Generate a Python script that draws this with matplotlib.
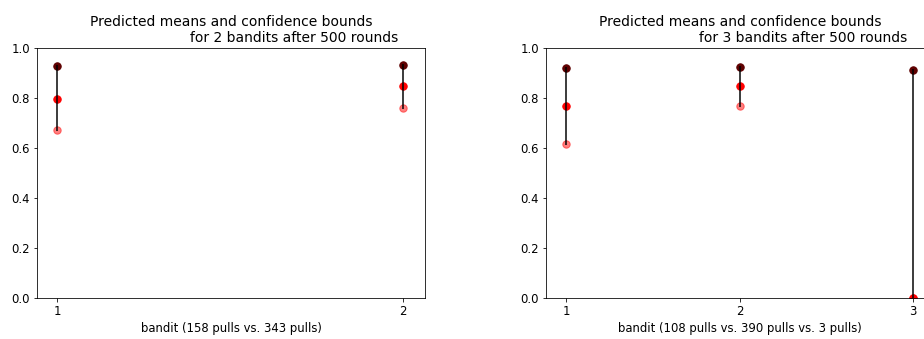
import matplotlib
matplotlib.use("Agg")
import matplotlib.pyplot as plt

# Podaci za levi grafik (2 bandita)
bandits_2 = [1, 2]
upper_2 = [0.928, 0.932]
mean_2 = [0.796, 0.848]
lower_2 = [0.672, 0.760]
pulls_2 = [158, 343]

# Podaci za desni grafik (3 bandita)
bandits_3 = [1, 2, 3]
upper_3 = [0.920, 0.924, 0.912]
mean_3 = [0.768, 0.848, 0.0]
lower_3 = [0.616, 0.768, 0.0]
pulls_3 = [108, 390, 3]

rounds = 500

plt.rcParams["font.size"] = 11.6
plt.rcParams["axes.titlesize"] = 13.9

fig = plt.figure(figsize=(924 / 72, 339 / 72), dpi=72)
ax1 = fig.add_axes([37 / 924, 41 / 339, 388 / 924, 250 / 339])
ax2 = fig.add_axes([546 / 924, 41 / 339, 388 / 924, 250 / 339])


def crtaj(ax, bandits, upper, mean, lower, pulls, xlim):
    ax.scatter(bandits, upper, s=55, color="#5e0000", zorder=2)
    ax.scatter(bandits, mean, s=55, color="red", zorder=2)
    ax.scatter(bandits, lower, s=55, color="red", alpha=0.5, zorder=2)
    for b, lo, up in zip(bandits, lower, upper):
        ax.plot([b, b], [lo, up], color="black", alpha=0.75, lw=2, zorder=3)
    ax.set_ylim(0, 1)
    ax.set_xlim(*xlim)
    ax.set_xticks(bandits)
    ax.set_xlabel("bandit (" + " vs. ".join("%d pulls" % p for p in pulls) + ")")
    ax.set_title("Predicted means and confidence bounds\n" + " " * 29
                 + "for %d bandits after %d rounds" % (len(bandits), rounds))


crtaj(ax1, bandits_2, upper_2, mean_2, lower_2, pulls_2, (0.942, 2.064))
crtaj(ax2, bandits_3, upper_3, mean_3, lower_3, pulls_3, (0.884, 3.12))

fig.savefig("out.png", dpi=72)
